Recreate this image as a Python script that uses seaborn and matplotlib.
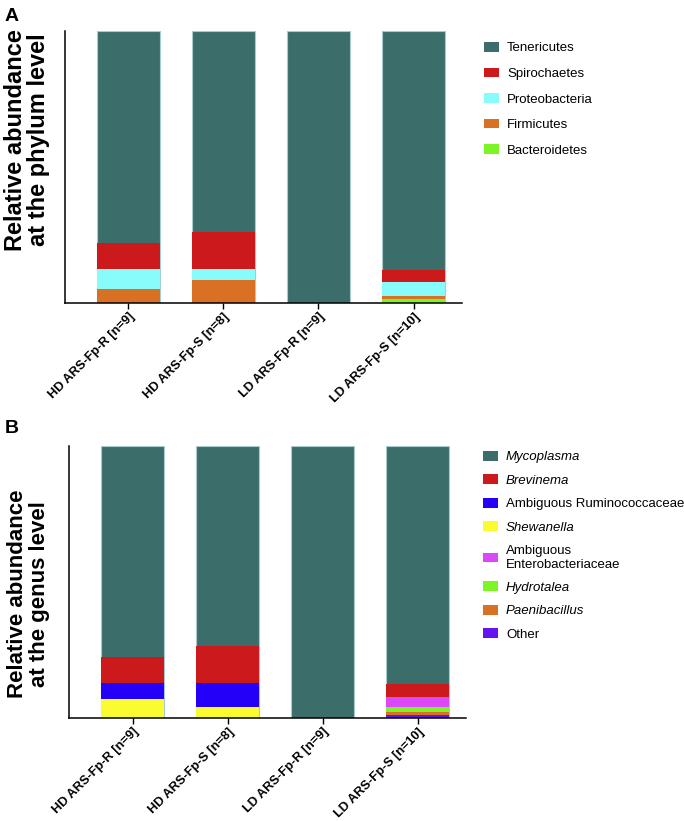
import numpy as np
import pandas as pd
import matplotlib
matplotlib.use("Agg")
import matplotlib.pyplot as plt
from matplotlib.patches import Patch
import seaborn as sns

# groups on the x axis
groups = ["HD ARS-Fp-R [n=9]", "HD ARS-Fp-S [n=8]", "LD ARS-Fp-R [n=9]", "LD ARS-Fp-S [n=10]"]

# Panel A: phylum level (% relative abundance), bottom of stack first
phylum_names = ["Bacteroidetes", "Firmicutes", "Proteobacteria", "Spirochaetes", "Tenericutes"]
bacteroidetes = [0.0, 0.0, 0.0, 1.4]
firmicutes = [5.1, 8.3, 0.0, 1.3]
proteobacteria = [7.3, 4.3, 0.0, 4.9]
spirochaetes = [9.6, 13.6, 0.0, 4.6]
tenericutes = [78.0, 73.8, 100.0, 87.8]
phylum_colors = ["#7cf527", "#d87124", "#88fbfb", "#cc1a1c", "#3b6e6b"]

# Panel B: genus level (% relative abundance), bottom of stack first
genus_names = ["Other", "Paenibacillus", "Hydrotalea", "Ambiguous\nEnterobacteriaceae",
               "Shewanella", "Ambiguous Ruminococcaceae", "Brevinema", "Mycoplasma"]
other = [0.0, 0.0, 0.0, 1.1]
paenibacillus = [0.0, 0.0, 0.0, 1.3]
hydrotalea = [0.0, 0.0, 0.0, 1.6]
enterobacteriaceae = [0.0, 0.0, 0.0, 3.9]
shewanella = [7.1, 4.0, 0.0, 0.0]
ruminococcaceae = [5.9, 8.9, 0.0, 0.0]
brevinema = [9.4, 13.6, 0.0, 4.7]
mycoplasma = [77.6, 73.5, 100.0, 87.4]
genus_colors = ["#6414f0", "#d87124", "#7cf527", "#da48f8",
                "#fbfb32", "#2400f8", "#cc1a1c", "#3b6e6b"]
italic_genera = {"Mycoplasma", "Brevinema", "Shewanella", "Hydrotalea", "Paenibacillus"}

sns.set_style("white")
plt.rcParams["font.family"] = ["Liberation Sans", "DejaVu Sans"]
plt.rcParams["text.color"] = "black"
plt.rcParams["axes.labelcolor"] = "black"
plt.rcParams["xtick.color"] = "black"

W, H = 684, 821
fig = plt.figure(figsize=(W / 100, H / 100), dpi=100)


def stacked_panel(ax, names, series, colors, ylabel, ysize, ylinesp, label_xy,
                  leg_xy, spacing, italic=()):
    df = pd.DataFrame(np.array(series).T, columns=names)
    df.insert(0, "group", groups)
    cum = df[names].cumsum(axis=1)
    # draw cumulative totals from the top layer down so lower layers sit on top
    for i in range(len(names) - 1, -1, -1):
        top = i == len(names) - 1
        sns.barplot(x=df["group"], y=cum[names[i]], color=colors[i], saturation=1,
                    width=0.66, errorbar=None, ax=ax,
                    edgecolor="#a9cbcb" if top else "none", linewidth=0.8 if top else 0)
    ax.set_xlim(-0.67, 3.51)
    ax.set_ylim(0, 100)
    ax.set_yticks([])
    ax.set_xlabel("")
    ax.set_ylabel(ylabel, fontsize=ysize, fontweight="bold", linespacing=ylinesp,
                  multialignment="center")
    ax.yaxis.set_label_coords(*label_xy)
    ax.tick_params(axis="x", bottom=True, length=4, width=1, color="black", pad=1.5)
    ax.set_xticks(range(len(groups)))
    ax.set_xticklabels(groups, rotation=45, ha="right", rotation_mode="anchor",
                       fontsize=9.2, fontweight="bold")
    for side in ["top", "right"]:
        ax.spines[side].set_visible(False)
    for side in ["left", "bottom"]:
        ax.spines[side].set_color("black")
        ax.spines[side].set_linewidth(1.1)

    handles = [Patch(facecolor=c, edgecolor="none", label=n)
               for n, c in zip(names[::-1], colors[::-1])]
    leg = ax.legend(handles=handles, loc="upper left",
                    bbox_to_anchor=(leg_xy[0] / W, 1 - leg_xy[1] / H),
                    bbox_transform=fig.transFigure, frameon=False, fontsize=9.5,
                    borderpad=0, borderaxespad=0, handlelength=1.14, handleheight=0.76,
                    handletextpad=0.6, labelspacing=spacing)
    for t in leg.get_texts():
        if t.get_text() in italic:
            t.set_fontstyle("italic")


axA = fig.add_axes([64.5 / W, 1 - 303 / H, (462 - 64.5) / W, 272 / H])
stacked_panel(axA, phylum_names,
              [bacteroidetes, firmicutes, proteobacteria, spirochaetes, tenericutes],
              phylum_colors, "Relative abundance\nat the phylum level", 17, 1.0,
              (-0.0365, 0.6), (484, 42), 0.99)

axB = fig.add_axes([69 / W, 1 - 718.3 / H, (466 - 69) / W, 272.6 / H])
stacked_panel(axB, genus_names,
              [other, paenibacillus, hydrotalea, enterobacteriaceae, shewanella,
               ruminococcaceae, brevinema, mycoplasma],
              genus_colors, "Relative abundance\nat the genus level", 16, 1.05,
              (-0.048, 0.456), (483, 451), 0.83, italic=italic_genera)

fig.text(5 / W, 1 - 8 / H, "A", fontsize=14, fontweight="bold", va="top", ha="left")
fig.text(5 / W, 1 - 420 / H, "B", fontsize=14, fontweight="bold", va="top", ha="left")

fig.savefig("out.png", dpi=100)
